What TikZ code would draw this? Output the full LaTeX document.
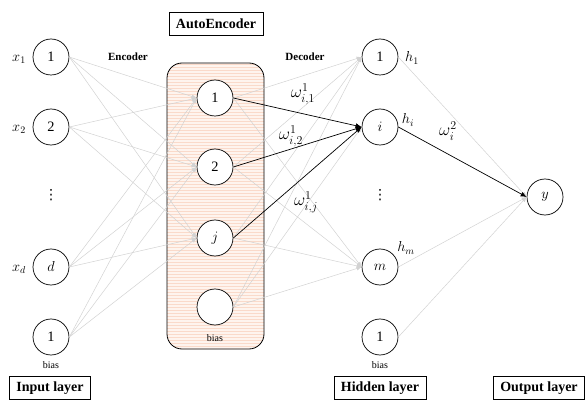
\documentclass[tikz,border=0pt]{standalone}
\usepackage{amsmath,amssymb}
\usepackage{fontspec}
\setmainfont{Liberation Serif}
\newfontfamily\dotsfont{DejaVu Sans}
\usetikzlibrary{positioning,calc}
\usetikzlibrary{arrows.meta,patterns}
\definecolor{WireGray}{RGB}{210,210,210}
\definecolor{PeachFill}{RGB}{254,244,238}
\definecolor{PeachLine}{RGB}{250,218,202}
\tikzset{
  unit/.style={circle,draw=black,fill=white,minimum size=36pt,inner sep=0pt,
    line width=0.7pt,font=\fontsize{14.4}{17}\selectfont},
  wire/.style={draw=WireGray,line width=0.5pt,-{Latex[length=5pt,width=4pt]}},
  wgt/.style={draw=black,line width=0.7pt,-{Latex[length=6pt,width=5pt]}},
  layerbox/.style={draw=black,line width=0.6pt,inner xsep=7pt,minimum height=23pt,
    font=\fontsize{14}{16}\selectfont\bfseries},
  tag/.style={font=\fontsize{11}{13}\selectfont\bfseries},
  note/.style={font=\fontsize{10}{12}\selectfont},
  sym/.style={font=\fontsize{14.4}{17}\selectfont},
  wsym/.style={font=\fontsize{17.28}{20}\selectfont},
  vdot/.style={inner sep=0pt,font=\dotsfont\fontsize{14}{16}\selectfont},
}

\begin{document}
\begin{tikzpicture}[x=1pt,y=-1pt]
\useasboundingbox (0,0) rectangle (587,401);
\fill[PeachFill,rounded corners=15pt] (167,63) rectangle (264,349);
\fill[pattern=horizontal lines,pattern color=PeachLine,rounded corners=15pt] (167,63) rectangle (264,349);
\draw[line width=0.8pt,rounded corners=15pt] (167,63) rectangle (264,349);
\node[unit] (in1) at (51,57) {1};
\node[unit] (in2) at (51,127) {2};
\node[unit] (ind) at (51,267) {$d$};
\node[unit] (inb) at (51,337) {1};
\node[unit] (ae1) at (215,98) {1};
\node[unit] (ae2) at (215,167) {2};
\node[unit] (aej) at (215,238) {$j$};
\node[unit] (aeb) at (215,307) {};
\node[unit] (hid1) at (380,57) {1};
\node[unit] (hidi) at (380,127) {$i$};
\node[unit] (hidm) at (380,267) {$m$};
\node[unit] (hidb) at (380,337) {1};
\node[unit] (out) at (545,197) {$y$};
% encoder side
\draw[wire] (in1.east)--(ae1.west);
\draw[wire] (in1.east)--(ae2.west);
\draw[wire] (in1.east)--(aej.west);
\draw[wire] (in2.east)--(ae1.west);
\draw[wire] (in2.east)--(ae2.west);
\draw[wire] (in2.east)--(aej.west);
\draw[wire] (ind.east)--(ae1.west);
\draw[wire] (ind.east)--(ae2.west);
\draw[wire] (ind.east)--(aej.west);
\draw[wire] (inb.east)--(ae1.west);
\draw[wire] (inb.east)--(ae2.west);
\draw[wire] (inb.east)--(aej.west);
% decoder side
\draw[wire] (ae1.east)--(hid1.west);
\draw[wire] (ae1.east)--(hidm.west);
\draw[wire] (ae2.east)--(hid1.west);
\draw[wire] (ae2.east)--(hidm.west);
\draw[wire] (aej.east)--(hid1.west);
\draw[wire] (aej.east)--(hidm.west);
\draw[wire] (aeb.east)--(hid1.west);
\draw[wire] (aeb.east)--(hidi.west);
\draw[wire] (aeb.east)--(hidm.west);
\draw[wgt] (ae1.east)--(hidi.west);
\draw[wgt] (ae2.east)--(hidi.west);
\draw[wgt] (aej.east)--(hidi.west);
% output side
\draw[wire] (hid1.east)--(out.west);
\draw[wire] (hidm.east)--(out.west);
\draw[wire] (hidb.east)--(out.west);
\draw[wgt] (hidi.east)--(out.west);
% labels
\node[sym] (lx1) at (19,59) {$x_1$};
\node[sym] (lx2) at (19,129) {$x_2$};
\node[sym] (lxd) at (19,269) {$x_d$};
\node[sym] (lh1) at (412,58) {$h_1$};
\node[sym] (lhi) at (408,120) {$h_i$};
\node[sym] (lhm) at (406,248) {$h_m$};
\node[vdot] (vin) at (51,195) {⋮};
\node[vdot] (vhid) at (380,195) {⋮};
\node[wsym] (w11) at (303,94) {$\omega^1_{i,1}$};
\node[wsym] (w12) at (291,136) {$\omega^1_{i,2}$};
\node[wsym] (w1j) at (306,202) {$\omega^1_{i,j}$};
\node[wsym] (w2) at (448,131) {$\omega^2_i$};
\node[tag] (enc) at (128,57) {Encoder};
\node[tag] (dec) at (305,57) {Decoder};
\node[note] (bin) at (51,365) {bias};
\node[note] (bae) at (215,338) {bias};
\node[note] (bhid) at (380,365) {bias};
\node[layerbox] (ae) at (216,24) {AutoEncoder};
\node[layerbox] (inl) at (50,388) {Input layer};
\node[layerbox] (hidl) at (380,388) {Hidden layer};
\node[layerbox] (outl) at (539,388) {Output layer};
\end{tikzpicture}
\end{document}
